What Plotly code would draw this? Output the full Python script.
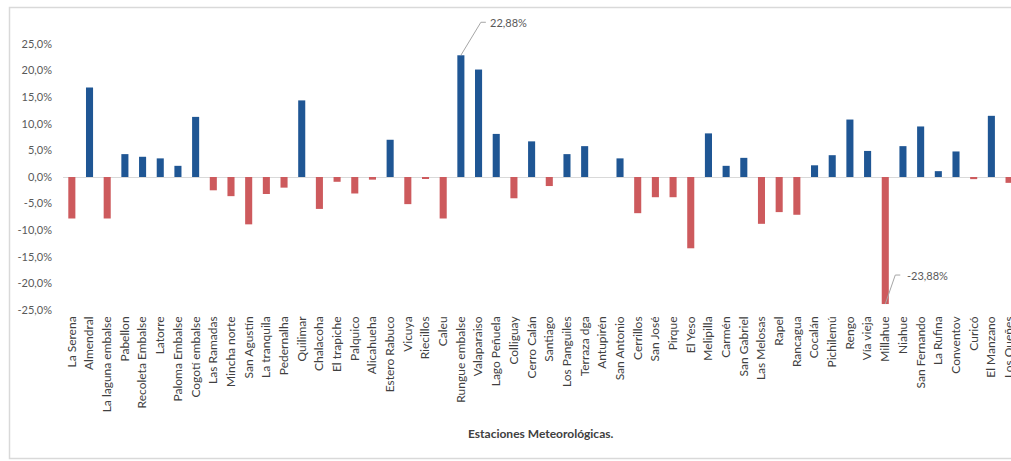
import plotly.graph_objects as go

# Estaciones meteorológicas y variación porcentual (%)
estaciones = [
    "La Serena", "Almendral", "La laguna embalse", "Pabellon", "Recoleta Embalse",
    "Latorre", "Paloma Embalse", "Cogotí embalse", "Las Ramadas", "Mincha norte",
    "San Agustín", "La tranquila", "Pedernalha", "Quilimar", "Chalacoha",
    "El trapiche", "Palquico", "Alicahueha", "Estero Rabuco", "Vicuya",
    "Riecillos", "Caleu", "Rungue embalse", "Valaparaiso", "Lago Peñuela",
    "Colliguay", "Cerro Calán", "Santiago", "Los Panguiles", "Terraza dga",
    "Antupirén", "San Antonio", "Cerrillos", "San José", "Pirque",
    "El Yeso", "Melipilla", "Carmén", "San Gabriel", "Las Melosas",
    "Rapel", "Rancagua", "Cocalán", "Pichilemú", "Rengo",
    "Vía vieja", "Millahue", "Niahue", "San Fernando", "La Rufina",
    "Conventov", "Curicó", "El Manzano", "Los Queñes",
]

variacion = [
    -7.8, 16.8, -7.8, 4.3, 3.8,
    3.5, 2.1, 11.3, -2.5, -3.6,
    -8.9, -3.2, -2.0, 14.4, -6.0,
    -0.9, -3.1, -0.5, 7.0, -5.1,
    -0.2, -7.8, 22.88, 20.2, 8.1,
    -4.0, 6.7, -1.7, 4.3, 5.8,
    0.0, 3.5, -6.8, -3.8, -3.8,
    -13.4, 8.2, 2.1, 3.6, -8.8,
    -6.6, -7.1, 2.2, 4.1, 10.8,
    4.9, -23.88, 5.8, 9.5, 1.1,
    4.8, -0.4, 11.5, -1.1,
]

y_ticks = [25, 20, 15, 10, 5, 0, -5, -10, -15, -20, -25]
y_tick_labels = ["25,0%", "20,0%", "15,0%", "10,0%", "5,0%", "0,0%",
                 "-5,0%", "-10,0%", "-15,0%", "-20,0%", "-25,0%"]

AZUL = "#1F5694"
ROJO = "#CD5A5D"
GRIS_TXT = "#595959"

X_RANGE = [-0.5, 53.11]
Y_RANGE = [-25, 25]

x_idx = list(range(len(estaciones)))
colores = [AZUL if v >= 0 else ROJO for v in variacion]

fig = go.Figure(go.Bar(
    x=x_idx, y=variacion, marker=dict(color=colores, line=dict(width=0)),
    width=0.4, hoverinfo="skip",
))

fig.update_layout(
    width=1011, height=461,
    margin=dict(l=63, r=0, t=44, b=151, autoexpand=False),
    paper_bgcolor="white", plot_bgcolor="white",
    showlegend=False,
    font=dict(family="Lato, 'Open Sans', sans-serif", color=GRIS_TXT),
)

fig.update_xaxes(
    range=X_RANGE, tickmode="array", tickvals=x_idx, ticktext=estaciones,
    tickangle=-90, tickfont=dict(size=12, color="#404040"),
    showgrid=False, showline=False, zeroline=False, ticks="",
    ticklabelstandoff=3, ticklabeloverflow="allow", automargin=False,
)
fig.update_yaxes(
    range=Y_RANGE, tickmode="array", tickvals=y_ticks, ticktext=y_tick_labels,
    tickfont=dict(size=11, color=GRIS_TXT),
    showgrid=False, showline=False, zeroline=True, zerolinecolor="#D9D9D9",
    zerolinewidth=1, ticks="", ticklabelstandoff=10, automargin=False,
)


def etiqueta(v):
    return f"{v:.2f}".replace(".", ",") + "%"


def a_papel_x(x):
    return (x - X_RANGE[0]) / (X_RANGE[1] - X_RANGE[0])


def a_papel_y(y):
    return (y - Y_RANGE[0]) / (Y_RANGE[1] - Y_RANGE[0])


# Marco exterior del gráfico
fig.add_shape(type="rect", xref="paper", yref="paper",
              x0=(9.5 - 63) / 948, x1=1.05, y0=-(458.5 - 310) / 266, y1=(310 - 7.5) / 266,
              line=dict(color="#D9D9D9", width=1.5), fillcolor="rgba(0,0,0,0)", layer="below")

# Rótulos con línea guía para el máximo y el mínimo
i_max = variacion.index(max(variacion))
i_min = variacion.index(min(variacion))
for i, dx, dy, tx in [(i_max, 20, 33, 27), (i_min, 10, 29, 20)]:
    v = variacion[i]
    fig.add_shape(type="path", xref="paper", yref="paper",
                  xsizemode="pixel", ysizemode="pixel",
                  xanchor=a_papel_x(i), yanchor=a_papel_y(v),
                  path=f"M0,0 L{dx},{dy} L{dx + 5},{dy}",
                  line=dict(color="#A6A6A6", width=1))
    fig.add_annotation(x=i, y=v, xref="x", yref="y", text=etiqueta(v),
                       showarrow=False, xanchor="left", yanchor="middle",
                       xshift=tx, yshift=dy,
                       font=dict(size=11, color=GRIS_TXT))

# Título del eje de categorías
fig.add_annotation(x=0.5 * (1018 - 63) / 948, y=-(433 - 310) / 266,
                   xref="paper", yref="paper", text="<b>Estaciones Meteorológicas.</b>",
                   showarrow=False, xanchor="center", yanchor="middle",
                   font=dict(size=12, color="#404040"))

fig.write_html("out.html")
